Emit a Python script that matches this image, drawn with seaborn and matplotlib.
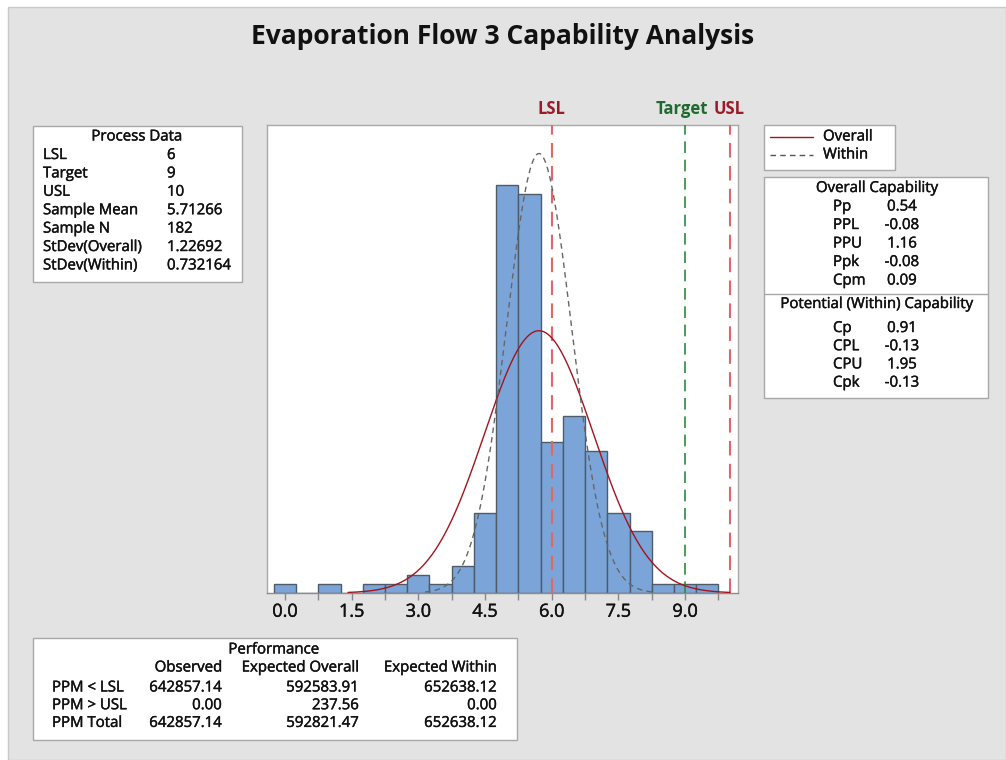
import numpy as np
import pandas as pd
import matplotlib
matplotlib.use("Agg")
import matplotlib.pyplot as plt
import matplotlib.patheffects as pe
from matplotlib.patches import Rectangle
from matplotlib.lines import Line2D
import seaborn as sns

# ---- data ----
bin_edges = [-0.25 + 0.5 * i for i in range(21)]
bin_counts = [1, 0, 1, 0, 1, 1, 2, 1, 3, 9, 46, 45, 17, 20, 16, 9, 7, 1, 1, 1]

lsl, target, usl = 6, 9, 10
sample_mean = 5.71266
sample_n = 182
sd_overall = 1.22692
sd_within = 0.732164

process_labels = ["LSL", "Target", "USL", "Sample Mean", "Sample N", "StDev(Overall)", "StDev(Within)"]
process_values = ["6", "9", "10", "5.71266", "182", "1.22692", "0.732164"]

overall_labels = ["Pp", "PPL", "PPU", "Ppk", "Cpm"]
overall_values = ["0.54", "-0.08", "1.16", "-0.08", "0.09"]
within_labels = ["Cp", "CPL", "CPU", "Cpk"]
within_values = ["0.91", "-0.13", "1.95", "-0.13"]

perf_columns = ["Observed", "Expected Overall", "Expected Within"]
perf_rows = ["PPM < LSL", "PPM > USL", "PPM Total"]
perf_observed = ["642857.14", "0.00", "642857.14"]
perf_exp_overall = ["592583.91", "237.56", "592821.47"]
perf_exp_within = ["652638.12", "0.00", "652638.12"]

tick_values = [0.0, 1.5, 3.0, 4.5, 6.0, 7.5, 9.0]

# ---- style ----
sns.set_theme(style="white")
plt.rcParams["font.family"] = ["Open Sans", "DejaVu Sans"]

W, H = 1006, 760
fig = plt.figure(figsize=(W / 100, H / 100), dpi=100)
fig.patch.set_facecolor("white")

# slightly heavier text rendering
heavy = [pe.withStroke(linewidth=0.3, foreground="#111111")]

# gray panel with thin border
panel = Rectangle((8 / W, 0), 1 - 8 / W, 1 - 7 / H, transform=fig.transFigure,
                  facecolor="#E3E3E3", edgecolor="#C8C8C8", linewidth=1.0, zorder=-10)
fig.patches.append(panel)


def fx(px):
    return px / W


def fy(py):
    return 1 - py / H


ax = fig.add_axes([fx(267), fy(593), fx(738) - fx(267), fy(125) - fy(593)])
ax.set_facecolor("white")

centers = [(bin_edges[i] + bin_edges[i + 1]) / 2 for i in range(len(bin_counts))]
hist_df = pd.DataFrame({"value": centers, "count": bin_counts})
sns.histplot(data=hist_df, x="value", weights="count", bins=bin_edges, ax=ax,
             color="#7BA5D9", edgecolor="#4F5B66", linewidth=1.0, alpha=1.0, zorder=2)

# fitted normal curves scaled to counts
bw = bin_edges[1] - bin_edges[0]


def normal_curve(mu, sd):
    x = np.linspace(mu - 3.5 * sd, mu + 3.5 * sd, 300)
    y = sample_n * bw * np.exp(-0.5 * ((x - mu) / sd) ** 2) / (sd * np.sqrt(2 * np.pi))
    return pd.DataFrame({"x": x, "y": y})


ov = normal_curve(sample_mean, sd_overall)
wi = normal_curve(sample_mean, sd_within)
sns.lineplot(data=ov, x="x", y="y", ax=ax, color="#A3141E", linewidth=1.0, zorder=4)
sns.lineplot(data=wi, x="x", y="y", ax=ax, color="#666666", linewidth=1.0,
             linestyle=(0, (4, 3)), zorder=4)

# spec lines
ax.axvline(lsl, color="#E0666A", linewidth=1.5, linestyle=(0, (7, 4)), zorder=3)
ax.axvline(usl, color="#E0666A", linewidth=1.5, linestyle=(0, (7, 4)), zorder=3)
ax.axvline(target, color="#2E8B3E", linewidth=1.2, linestyle=(0, (7, 4)), zorder=3)

ax.set_xlim(-0.405, 10.19)
ax.set_ylim(0, 52.8)
ax.set_xticks(tick_values)
ax.set_xticklabels([f"{v:.1f}" for v in tick_values], fontsize=13, color="#111111")
for lbl in ax.get_xticklabels():
    lbl.set_path_effects(heavy)
ax.set_xticks([0.75 + 1.5 * i for i in range(7)], minor=True)
ax.tick_params(axis="x", which="both", direction="out", length=5, width=1,
               color="#888888", bottom=True, pad=2)
ax.set_yticks([])
ax.set_xlabel("")
ax.set_ylabel("")
for s in ax.spines.values():
    s.set_color("#A8A8A8")
    s.set_linewidth(1.0)
ax.spines["bottom"].set_color("#8C8C8C")

# labels above spec lines
trans = ax.get_xaxis_transform()
ax.text(lsl, 1.015, "LSL", transform=trans, ha="center", va="bottom",
        color="#9B1B2A", fontsize=12, fontweight="bold")
ax.text(target - 0.07, 1.015, "Target", transform=trans, ha="center", va="bottom",
        color="#1F6B2E", fontsize=12, fontweight="bold")
ax.text(usl - 0.02, 1.015, "USL", transform=trans, ha="center", va="bottom",
        color="#9B1B2A", fontsize=12, fontweight="bold")

# title
fig.text(fx(503), fy(36), "Evaporation Flow 3 Capability Analysis", ha="center",
         va="center", fontsize=19, fontweight="bold", color="#111111")


def box(x0, y0, x1, y1):
    fig.patches.append(Rectangle((fx(x0), fy(y1)), fx(x1) - fx(x0), fy(y0) - fy(y1),
                                 transform=fig.transFigure, facecolor="white",
                                 edgecolor="#A8A8A8", linewidth=1.0, zorder=1))


TXT = dict(fontsize=10.8, color="#111111", va="center", zorder=5, path_effects=heavy)

# Process Data table
box(33, 126, 242, 282)
fig.text(fx(137), fy(137), "Process Data", ha="center", **TXT)
for i, (lab, val) in enumerate(zip(process_labels, process_values)):
    y = 155.5 + i * 18.4
    fig.text(fx(43), fy(y), lab, ha="left", **TXT)
    fig.text(fx(167), fy(y), val, ha="left", **TXT)

# legend box
box(764, 125, 895, 170)
fig.lines.append(Line2D([fx(770), fx(813)], [fy(137), fy(137)], transform=fig.transFigure,
                        color="#A3141E", linewidth=1.0, zorder=5))
fig.lines.append(Line2D([fx(770), fx(813)], [fy(155), fy(155)], transform=fig.transFigure,
                        color="#555555", linewidth=1.0, linestyle=(0, (4, 3)), zorder=5))
fig.text(fx(823), fy(137), "Overall", ha="left", **TXT)
fig.text(fx(823), fy(155), "Within", ha="left", **TXT)

# capability box
box(764, 177, 988, 398)
fig.lines.append(Line2D([fx(764), fx(988)], [fy(294), fy(294)], transform=fig.transFigure,
                        color="#A8A8A8", linewidth=1.0, zorder=5))
fig.text(fx(877), fy(188.5), "Overall Capability", ha="center", **TXT)
for i, (lab, val) in enumerate(zip(overall_labels, overall_values)):
    y = 207 + i * 18.5
    fig.text(fx(833), fy(y), lab, ha="left", **TXT)
    fig.text(fx(902), fy(y), val, ha="center", **TXT)
fig.text(fx(877), fy(304.5), "Potential (Within) Capability", ha="center", **TXT)
for i, (lab, val) in enumerate(zip(within_labels, within_values)):
    y = 328.5 + i * 18.2
    fig.text(fx(833), fy(y), lab, ha="left", **TXT)
    fig.text(fx(902), fy(y), val, ha="center", **TXT)

# Performance table
box(33, 638, 517, 740)
fig.text(fx(274), fy(650), "Performance", ha="center", **TXT)
col_right = [222, 359, 497]
for c, name in zip(col_right, perf_columns):
    fig.text(fx(c), fy(668), name, ha="right", **TXT)
for i, row in enumerate(perf_rows):
    y = 688 + i * 17.7
    fig.text(fx(52), fy(y), row, ha="left", **TXT)
    for c, val in zip(col_right, [perf_observed[i], perf_exp_overall[i], perf_exp_within[i]]):
        fig.text(fx(c), fy(y), val, ha="right", **TXT)

fig.savefig("out.png", dpi=100, facecolor=fig.get_facecolor())
